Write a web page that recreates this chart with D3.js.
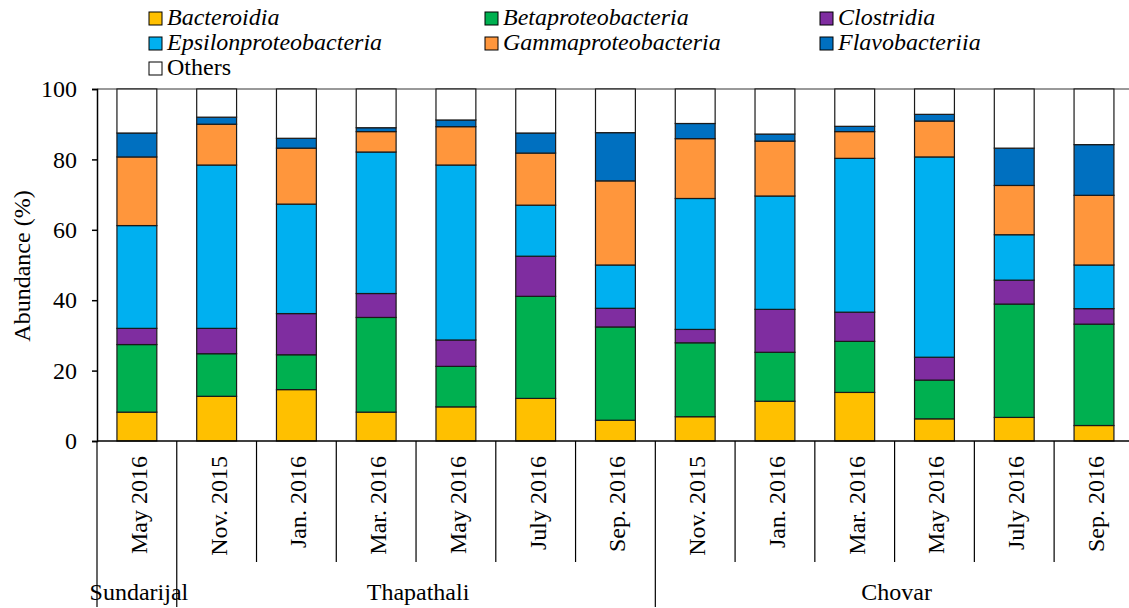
<!DOCTYPE html>
<html>
<head>
<meta charset="utf-8">
<script src="https://cdn.jsdelivr.net/npm/d3@7"></script>
<style>
	body { margin: 0; background: #fff; }
	svg text { font-family: "Liberation Serif", "DejaVu Serif", serif; fill: #000; }
</style>
</head>
<body>
<svg id="chart" width="1129" height="608"></svg>
<script>
// Chart data
var samples = ["May 2016", "Nov. 2015", "Jan. 2016", "Mar. 2016", "May 2016", "July 2016", "Sep. 2016",
	"Nov. 2015", "Jan. 2016", "Mar. 2016", "May 2016", "July 2016", "Sep. 2016"];
var sites = ["Sundarijal", "Thapathali", "Chovar"];
var siteSizes = [1, 6, 6];
var taxa = ["Bacteroidia", "Betaproteobacteria", "Clostridia", "Epsilonproteobacteria",
	"Gammaproteobacteria", "Flavobacteriia", "Others"];
var colors = ["#FFC000", "#00B050", "#7F2DA0", "#00B0F0", "#FF963C", "#0070C0", "#FFFFFF"];

var bacteroidia = [8.2, 12.7, 14.6, 8.2, 9.7, 12.1, 5.9, 6.9, 11.3, 13.8, 6.3, 6.7, 4.4];
var betaproteo = [19.2, 12.1, 9.9, 26.9, 11.5, 29.0, 26.5, 21.0, 13.9, 14.5, 11.0, 32.2, 28.8];
var clostridia = [4.6, 7.2, 11.7, 6.8, 7.5, 11.4, 5.3, 3.8, 12.2, 8.3, 6.5, 6.8, 4.4];
var epsilonproteo = [29.2, 46.4, 31.1, 40.2, 49.7, 14.5, 12.3, 37.2, 32.2, 43.7, 56.9, 12.9, 12.4];
var gammaproteo = [19.5, 11.6, 15.9, 5.8, 10.9, 14.8, 23.9, 17.0, 15.6, 7.6, 10.2, 14.0, 19.8];
var flavobacteriia = [6.8, 2.0, 2.8, 1.1, 1.9, 5.7, 13.7, 4.3, 2.0, 1.5, 1.9, 10.6, 14.4];
var others = [12.5, 8.0, 14.0, 11.0, 8.8, 12.5, 12.4, 9.8, 12.8, 10.6, 7.2, 16.8, 15.8];

var yTicks = [0, 20, 40, 60, 80, 100];

// Build table for stacking
var series = [bacteroidia, betaproteo, clostridia, epsilonproteo, gammaproteo, flavobacteriia, others];
var table = samples.map((s, i) => {
	let row = { idx: i };
	taxa.forEach((t, k) => { row[t] = series[k][i]; });
	return row;
});

var svg = d3.select("#chart");
var margin = { left: 97, top: 89, bottom: 441 };
var bandW = 79.76;
var serif = "'Liberation Serif', 'DejaVu Serif', serif";

var x = d3.scaleBand()
	.domain(d3.range(samples.length))
	.range([margin.left, margin.left + bandW * samples.length])
	.paddingInner(0)
	.paddingOuter(0);
var y = d3.scaleLinear().domain([0, 100]).range([margin.bottom, margin.top]);
var c = d3.scaleOrdinal().domain(taxa).range(colors);

var stacked = d3.stack().keys(taxa)(table);

// Top border line
svg.append("line")
	.attr("x1", margin.left).attr("x2", 1129)
	.attr("y1", y(100)).attr("y2", y(100))
	.attr("stroke", "#777").attr("stroke-width", 1.5);

// Bars
var barW = x.bandwidth() * 0.5;
var layers = svg.append("g").selectAll("g")
	.data(stacked)
	.enter()
	.append("g")
	.attr("fill", d => c(d.key));

layers.selectAll("rect")
	.data(d => d)
	.enter()
	.append("rect")
	.attr("x", d => x(d.data.idx) + (x.bandwidth() - barW) / 2)
	.attr("y", d => y(d[1]))
	.attr("width", barW)
	.attr("height", d => y(d[0]) - y(d[1]))
	.attr("stroke", "#1a1a1a")
	.attr("stroke-width", 1.2);

// Y axis
var yAxis = svg.append("g")
	.attr("transform", "translate(" + margin.left + ",0)")
	.call(d3.axisLeft(y).tickValues(yTicks).tickSize(5).tickPadding(15).tickFormat(d3.format("d")));
yAxis.attr("font-family", serif).attr("font-size", 24);
yAxis.select(".domain").attr("stroke", "#000").attr("stroke-width", 1.5);
yAxis.selectAll(".tick line").attr("stroke", "#000").attr("stroke-width", 1.5);
yAxis.selectAll("text")
	.attr("font-family", serif)
	.style("font-size", "24px")
	.attr("fill", "#000");

// Y title
svg.append("text")
	.attr("transform", "translate(30,266) rotate(-90)")
	.style("text-anchor", "middle")
	.style("font-size", "24px")
	.text("Abundance (%)");

// X axis line
svg.append("line")
	.attr("x1", margin.left).attr("x2", 1129)
	.attr("y1", margin.bottom).attr("y2", margin.bottom)
	.attr("stroke", "#000").attr("stroke-width", 1.5);

// Category separators below axis
var groupStarts = [0];
siteSizes.forEach((n, i) => { groupStarts.push(groupStarts[i] + n); });
svg.append("g").selectAll("line")
	.data(d3.range(samples.length + 1))
	.enter()
	.append("line")
	.attr("x1", i => margin.left + i * bandW)
	.attr("x2", i => margin.left + i * bandW)
	.attr("y1", margin.bottom)
	.attr("y2", i => groupStarts.indexOf(i) >= 0 ? 607 : 562)
	.attr("stroke", "#000")
	.attr("stroke-width", 1.2);

// Sample labels (rotated)
svg.append("g").selectAll("text")
	.data(samples)
	.enter()
	.append("text")
	.attr("transform", (d, i) => "translate(" + (x(i) + x.bandwidth() / 2 + 10) + ",456) rotate(-90)")
	.style("text-anchor", "end")
	.style("font-size", "24px")
	.text(d => d);

// Site labels
svg.append("g").selectAll("text")
	.data(sites)
	.enter()
	.append("text")
	.attr("x", (d, i) => margin.left + (groupStarts[i] + siteSizes[i] / 2) * bandW + 2)
	.attr("y", 600)
	.style("text-anchor", "middle")
	.style("font-size", "24px")
	.text(d => d);

// Legend
var legendCols = [149, 485, 820];
var legendRows = [12, 37, 62];
var legend = svg.append("g").selectAll("g")
	.data(taxa)
	.enter()
	.append("g")
	.attr("transform", (d, i) => "translate(" + legendCols[i % 3] + "," + legendRows[Math.floor(i / 3)] + ")");

legend.append("rect")
	.attr("width", 13)
	.attr("height", 13)
	.attr("fill", d => c(d))
	.attr("stroke", "#000")
	.attr("stroke-width", 1);

legend.append("text")
	.attr("x", 18)
	.attr("y", 13)
	.style("font-size", "24px")
	.style("font-style", d => d == "Others" ? "normal" : "italic")
	.text(d => d);
</script>
</body>
</html>
